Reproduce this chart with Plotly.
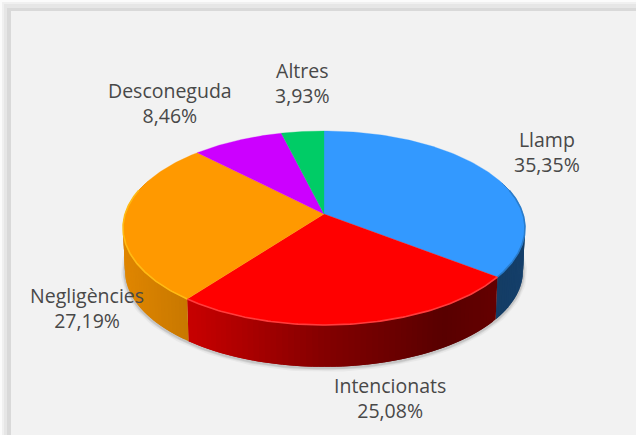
import numpy as np
import plotly.graph_objects as go

# --- data ---
categories = ["Llamp", "Intencionats", "Negligències", "Desconeguda", "Altres"]
values = [35.35, 25.08, 27.19, 8.46, 3.93]

# --- styling ---
colors = ["#3399FF", "#FF0000", "#FF9900", "#CC00FF", "#00CC66"]
rim_colors = ["#2A7CCB", "#FF3C3C", "#FFBB14", None, None]
label_pos = [(547, 152), (390, 398), (87, 308), (170, 103), (302, 83)]
W, H = 636, 435
CX, CY, DEPTH = 324.0, 214.0, 43.0
K, A, B = 0.144, 95.0, 198.9
FONT = "Open Sans"
FSIZE = 19.5


def project(theta_deg, bottom=False):
    t = np.radians(theta_deg)
    u, v = np.sin(t), -np.cos(t)
    w = 1 - K * v
    x, y = B * u / w, A * v / w
    if bottom:
        return CX + x * 0.99, CY + y * 0.99 + DEPTH
    return CX + x, CY + y


def side_factor(x):
    return np.interp(x, [123, 190, 320, 440, 525], [0.88, 0.78, 0.52, 0.35, 0.42])


def shade(hexcol, f):
    r, g, b = (int(hexcol[i:i + 2], 16) for i in (1, 3, 5))
    return f"rgb({int(r * f)},{int(g * f)},{int(b * f)})"


fig = go.Figure()


def poly(xs, ys, fill=None, line=None, width=0.0, opacity=1.0, closed=True):
    fig.add_trace(go.Scatter(
        x=xs, y=ys, mode="lines", hoverinfo="skip", showlegend=False, opacity=opacity,
        fill="toself" if closed else "none", fillcolor=fill,
        line=dict(color=line or fill, width=width), ))


total = sum(values)
edges = np.concatenate([[0], np.cumsum(values)]) / total * 360.0

# soft cast shadow along the lower outline
th = np.linspace(55, 305, 240)
sx, sy = project(th, bottom=True)
for w_, a_ in [(8, 0.05), (5, 0.08), (3, 0.12)]:
    poly(sx, sy + 1.0, line="rgb(60,60,60)", width=w_, opacity=a_, closed=False, fill="rgba(0,0,0,0)")

# extruded side wall, cut in overlapping strips so that it can carry a gradient
for i, col in enumerate(colors):
    a0, a1 = edges[i], edges[i + 1]
    steps = np.linspace(a0, a1, max(2, int((a1 - a0) / 1.5) + 1))
    for s0, s1 in zip(steps[:-1], steps[1:]):
        if 0.5 * (s0 + s1) < 70 or 0.5 * (s0 + s1) > 290:
            continue
        tt = np.array([s0, min(s1 + 1.5, a1)])
        xt, yt = project(tt)
        xb, yb = project(tt[::-1], bottom=True)
        c = shade(col, side_factor(0.5 * (xt.mean() + xb.mean())))
        poly(np.r_[xt, xb], np.r_[yt, yb], fill=c, line=c, width=0)

# top face
for i, col in enumerate(colors):
    tt = np.linspace(edges[i], edges[i + 1], 120)
    x, y = project(tt)
    poly(np.r_[CX, x, CX], np.r_[CY, y, CY], fill=col, line=col, width=0.3)

# bevel along the front rim only
for i, rim in enumerate(rim_colors):
    if rim is None:
        continue
    tt = np.linspace(max(edges[i], 75), min(edges[i + 1], 285), 120)
    x, y = project(tt)
    poly(x, y, line=rim, width=1.6, closed=False, fill="rgba(0,0,0,0)")

annotations = [
    dict(x=px, y=py, xref="x", yref="y", showarrow=False, align="center",
         text=f"{c}<br>{f'{v:.2f}'.replace('.', ',')}%",
         font=dict(family=FONT, size=FSIZE, color="#484848"))
    for c, v, (px, py) in zip(categories, values, label_pos)
]

# chart-area frame with its soft outer glow
frame = [(0, 0, "#FBFBFB"), (2, 2, "#F0F0F0"), (4, 4, "#E6E6E6"), (7, 8, "#D9D9D9"), (11, 11, "#F2F2F2")]
shapes = [dict(type="rect", xref="x", yref="y", x0=a, y0=b, x1=W + 5, y1=H + 5, layer="below",
               fillcolor=c, line=dict(width=0)) for a, b, c in frame]

fig.update_layout(
    width=W, height=H, margin=dict(l=0, r=0, t=0, b=0), autosize=False,
    paper_bgcolor="#F2F2F2", plot_bgcolor="#F2F2F2", showlegend=False,
    xaxis=dict(range=[0, W], visible=False, fixedrange=True),
    yaxis=dict(range=[H, 0], visible=False, fixedrange=True),
    annotations=annotations, shapes=shapes,
)
fig.write_html("out.html", config={"displayModeBar": False},
               post_script="document.body.style.margin='0';document.body.style.overflow='hidden';")
